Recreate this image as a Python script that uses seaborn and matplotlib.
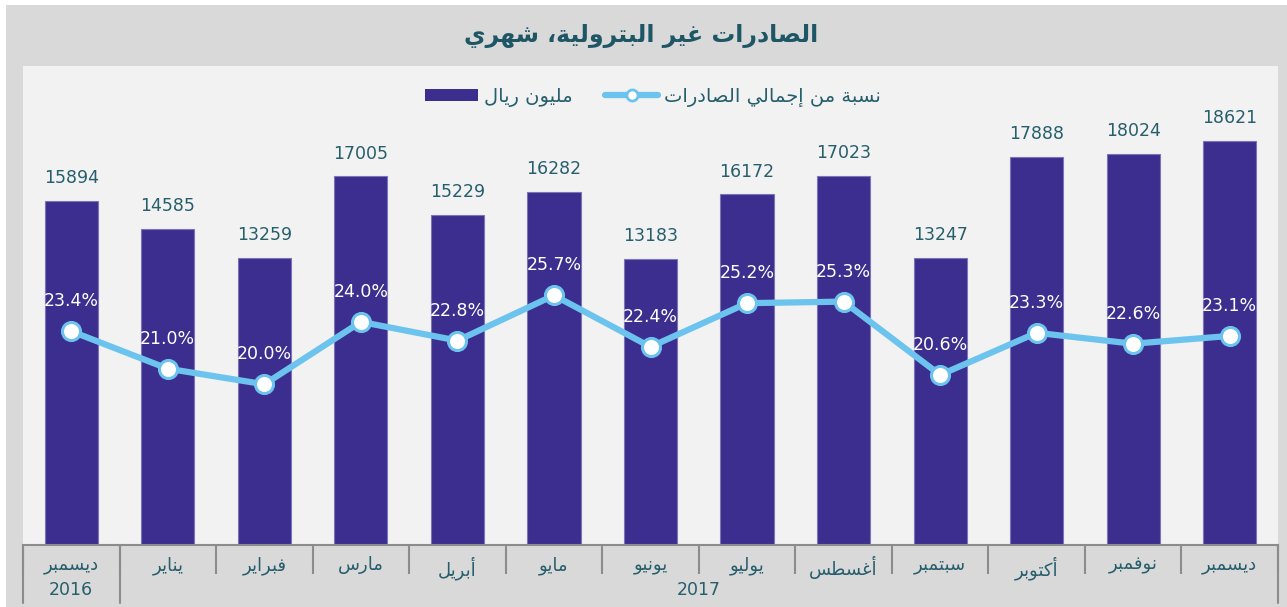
import numpy as np
import pandas as pd
import seaborn as sns
import matplotlib.pyplot as plt
from matplotlib.patches import Rectangle
from matplotlib.lines import Line2D
from matplotlib.patches import Patch

# ---- data ----
months = ["ديسمبر", "يناير", "فبراير", "مارس", "أبريل", "مايو", "يونيو",
          "يوليو", "أغسطس", "سبتمبر", "أكتوبر", "نوفمبر", "ديسمبر"]
years = ["2016", "2017"]
exports = [15894, 14585, 13259, 17005, 15229, 16282, 13183,
           16172, 17023, 13247, 17888, 18024, 18621]
share = [23.4, 21.0, 20.0, 24.0, 22.8, 25.7, 22.4,
         25.2, 25.3, 20.6, 23.3, 22.6, 23.1]
title = "الصادرات غير البترولية، شهري"
bar_label = "مليون ريال"
line_label = "نسبة من إجمالي الصادرات"

# ---- simple arabic shaping (presentation forms + rtl order) ----
# (isolated, final, initial, medial)
FORMS = {
    'ا': (0xFE8D, 0xFE8E), 'أ': (0xFE83, 0xFE84), 'إ': (0xFE87, 0xFE88),
    'ب': (0xFE8F, 0xFE90, 0xFE91, 0xFE92), 'ة': (0xFE93, 0xFE94),
    'ت': (0xFE95, 0xFE96, 0xFE97, 0xFE98), 'ج': (0xFE9D, 0xFE9E, 0xFE9F, 0xFEA0),
    'د': (0xFEA9, 0xFEAA), 'ر': (0xFEAD, 0xFEAE), 'ز': (0xFEAF, 0xFEB0),
    'س': (0xFEB1, 0xFEB2, 0xFEB3, 0xFEB4), 'ش': (0xFEB5, 0xFEB6, 0xFEB7, 0xFEB8),
    'ص': (0xFEB9, 0xFEBA, 0xFEBB, 0xFEBC), 'ط': (0xFEC1, 0xFEC2, 0xFEC3, 0xFEC4),
    'غ': (0xFECD, 0xFECE, 0xFECF, 0xFED0), 'ف': (0xFED1, 0xFED2, 0xFED3, 0xFED4),
    'ك': (0xFED9, 0xFEDA, 0xFEDB, 0xFEDC), 'ل': (0xFEDD, 0xFEDE, 0xFEDF, 0xFEE0),
    'م': (0xFEE1, 0xFEE2, 0xFEE3, 0xFEE4), 'ن': (0xFEE5, 0xFEE6, 0xFEE7, 0xFEE8),
    'ه': (0xFEE9, 0xFEEA, 0xFEEB, 0xFEEC), 'و': (0xFEED, 0xFEEE),
    'ي': (0xFEF1, 0xFEF2, 0xFEF3, 0xFEF4),
}


def ar(text):
    out = []
    for i, c in enumerate(text):
        f = FORMS.get(c)
        if f is None:
            out.append(c)
            continue
        prev = text[i - 1] if i > 0 else ''
        nxt = text[i + 1] if i + 1 < len(text) else ''
        jp = prev in FORMS and len(FORMS[prev]) == 4
        jn = nxt in FORMS and len(f) == 4
        if jp and jn:
            out.append(chr(f[3]))
        elif jp:
            out.append(chr(f[1]))
        elif jn:
            out.append(chr(f[2]))
        else:
            out.append(chr(f[0]))
    return ''.join(out)[::-1]


# ---- style ----
sns.set_style("white")
plt.rcParams['font.family'] = ['DejaVu Sans']
BAR = '#3b2e8e'
LINE = '#6cc4ee'
TEAL = '#265e6c'
AXC = '#8c8c8c'

fig = plt.figure(figsize=(12.87, 6.07), dpi=100, facecolor='white')
fig.patches.append(Rectangle((6 / 1287, 0), 1, 1 - 5 / 607, transform=fig.transFigure,
                             facecolor='#d9d9d9', edgecolor='none', zorder=-10))
ax = fig.add_axes([23 / 1287, 62 / 607, 1255 / 1287, 479 / 607])
ax.set_facecolor('#f2f2f2')

idx = np.arange(len(months))
df = pd.DataFrame({'pos': idx, 'exports': exports, 'share': share})

sns.barplot(data=df, x='pos', y='exports', color=BAR, saturation=1, width=0.55,
            edgecolor='#7d74b8', linewidth=0.8, ax=ax, zorder=2)
ax.set_xlim(-0.5, len(months) - 0.5)
ax.set_ylim(0, 22100)
ax.set_yticks([])
ax.set_ylabel('')
ax.set_xlabel('')

for x, v in zip(idx, exports):
    ax.annotate(str(v), (x, v), xytext=(0, 16.5), textcoords='offset points',
                ha='center', va='center', fontsize=12.5, color=TEAL)

ax2 = ax.twinx()
sns.lineplot(data=df, x='pos', y='share', color=LINE, linewidth=4.5, marker='o',
             markersize=13, markerfacecolor='white', markeredgecolor=LINE,
             markeredgewidth=2.2, ax=ax2, zorder=3)
ax2.set_ylim(9.7, 40.4)
ax2.set_yticks([])
ax2.set_ylabel('')
ax2.set_xlabel('')
for x, v in zip(idx, share):
    ax2.annotate(f"{v:.1f}%", (x, v), xytext=(0, 21.5), textcoords='offset points',
                 ha='center', va='center', fontsize=12.5, color='white')

for a in (ax, ax2):
    for s in ('top', 'left', 'right'):
        a.spines[s].set_visible(False)
ax2.spines['bottom'].set_visible(False)
ax.spines['bottom'].set_color(AXC)
ax.spines['bottom'].set_linewidth(1.5)

# category axis table
ax.set_xticks(idx)
ax.set_xticklabels([ar(m) for m in months], fontsize=13, color=TEAL)
ax.set_xticks(np.arange(len(months) + 1) - 0.5, minor=True)
ax.tick_params(axis='x', which='major', bottom=False, length=0, pad=8)
ax.tick_params(axis='x', which='minor', bottom=True, length=21, width=1.5,
               color=AXC, direction='out')
trans = ax.get_xaxis_transform()
for xb in (-0.5, 0.5, len(months) - 0.5):
    ax.plot([xb, xb], [0, -0.121], color=AXC, lw=1.5, transform=trans, clip_on=False)
ax.text(0, -0.094, years[0], transform=trans, ha='center', va='center',
        fontsize=12.5, color=TEAL)
ax.text((1 + len(months) - 1) / 2, -0.094, years[1], transform=trans, ha='center',
        va='center', fontsize=12.5, color=TEAL)

fig.text(641 / 1287, 1 - 36 / 607, ar(title), ha='center', va='center',
         fontsize=17, fontweight='bold', color='#1f5666')

handles = [Patch(facecolor=BAR, edgecolor='none'),
           Line2D([], [], color=LINE, lw=4.5, marker='o', markersize=8,
                  markerfacecolor='white', markeredgecolor=LINE, markeredgewidth=2)]
ax.legend(handles, [ar(bar_label), ar(line_label)], ncol=2, loc='center',
          bbox_to_anchor=(653 / 1287, 1 - 97 / 607), bbox_transform=fig.transFigure,
          frameon=False, fontsize=14, labelcolor=TEAL, handlelength=2.7,
          handleheight=0.6, handletextpad=0.3, columnspacing=1.7)

fig.savefig('out.png', dpi=100, facecolor=fig.get_facecolor())
